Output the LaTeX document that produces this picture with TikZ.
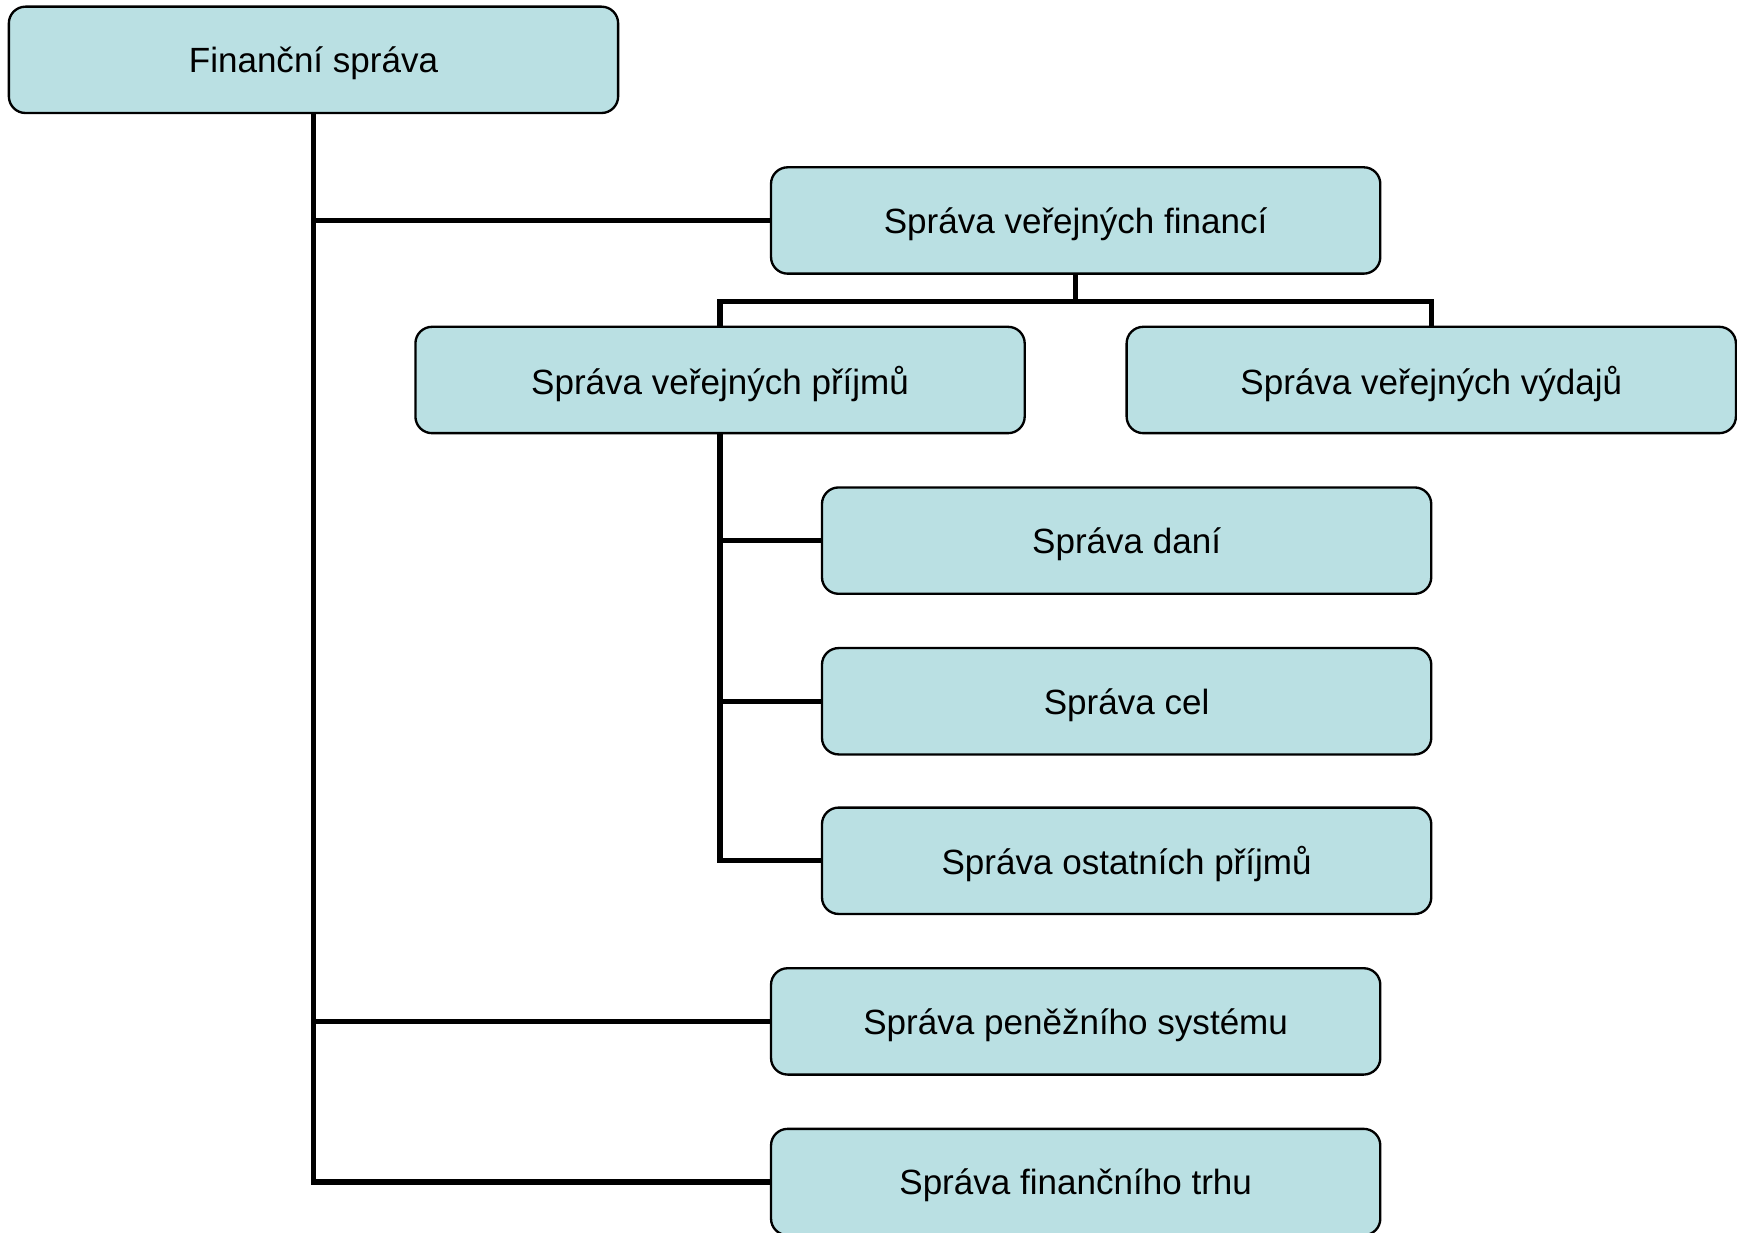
\documentclass[tikz,border=0pt]{standalone}
\usepackage{fontspec}
\setmainfont{Liberation Sans}
\usepackage{tikz}
\usetikzlibrary{positioning,calc}

\definecolor{boxblue}{RGB}{186,224,227}

\tikzset{
    orgbox/.style={draw, line width=0.6pt, rounded corners=1.5mm, fill=boxblue,
        minimum width=5.5cm, minimum height=0.96cm, inner sep=0pt, text depth=0pt,
        font=\fontsize{9}{10.8}\selectfont},
    link/.style={line width=1.35pt}
}

\begin{document}
\begin{tikzpicture}
    \useasboundingbox (0,0) rectangle (15.68,-11.13);

    % Boxes
    \node[orgbox] (root) at (2.83,-0.54) {Finanční správa};
    \node[orgbox] (svf)  at (9.71,-1.99) {Správa veřejných financí};
    \node[orgbox] (svp)  at (6.50,-3.43) {Správa veřejných příjmů};
    \node[orgbox] (svv)  at (12.92,-3.43) {Správa veřejných výdajů};
    \node[orgbox] (dane) at (10.17,-4.88) {Správa daní};
    \node[orgbox] (cel)  at (10.17,-6.33) {Správa cel};
    \node[orgbox] (ost)  at (10.17,-7.77) {Správa ostatních příjmů};
    \node[orgbox] (pen)  at (9.71,-9.22) {Správa peněžního systému};
    \node[orgbox] (trh)  at (9.71,-10.67) {Správa finančního trhu};

    % Lines
    \draw[link] (root.south) |- (svf.west);
    \draw[link] (root.south) |- (pen.west);
    \draw[link] (root.south) |- (trh.west);

    \draw[link] (svf.south) -- ++(0,-0.24) coordinate (bus) -| (svp.north);
    \draw[link] (bus) -| (svv.north);

    \draw[link] (svp.south) |- (dane.west);
    \draw[link] (svp.south) |- (cel.west);
    \draw[link] (svp.south) |- (ost.west);
\end{tikzpicture}
\end{document}
